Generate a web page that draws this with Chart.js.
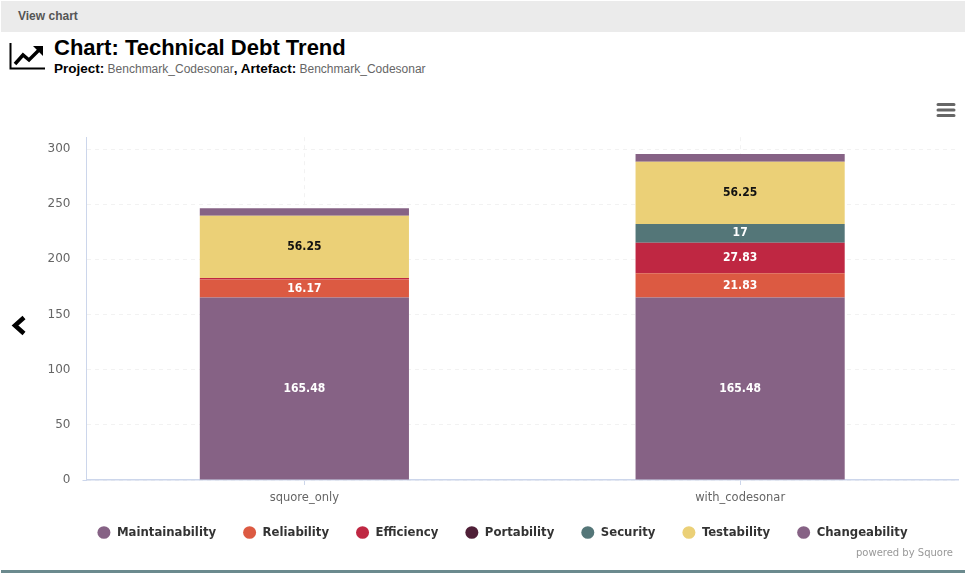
<!DOCTYPE html>
<html>
<head>
<meta charset="utf-8">
<script src="https://cdn.jsdelivr.net/npm/chart.js@4"></script>
<style>
    html, body { margin: 0; padding: 0; background: #fff; }
    body { width: 965px; height: 573px; position: relative; overflow: hidden; font-family: "Liberation Sans", Arial, sans-serif; }
    .viewBar { position: absolute; left: 1px; top: 1px; width: 964px; height: 31px; background: #ebebeb; color: #555; font-weight: bold; font-size: 12px; line-height: 31px; }
    .viewBar span { position: absolute; left: 17px; }
    h1 { position: absolute; left: 54px; top: 34px; margin: 0; font-size: 22px; line-height: 28px; color: #000; white-space: nowrap; }
    .sub { position: absolute; left: 54px; top: 61px; font-size: 12px; line-height: 15px; color: #666; white-space: nowrap; }
    .sub b { color: #000; font-size: 13.5px; }
    .icon { position: absolute; }
    .credit { position: absolute; right: 12px; top: 547px; font: 10px "DejaVu Sans", sans-serif; color: #999; }
    .footerLine { position: absolute; left: 1px; right: 0; top: 570px; height: 3px; background: #6b8a8e; }
    #chartBox { position: absolute; left: 47px; top: 118px; width: 918px; height: 440px; }
</style>
</head>
<body>
<div class="viewBar"><span>View chart</span></div>
<svg class="icon" style="left:9px;top:42px" width="37" height="28" viewBox="0 0 37 28">
    <path d="M1.5 1V26.5H36" fill="none" stroke="#000" stroke-width="2"/>
    <path d="M6 22L14 13L20 18L30 8" fill="none" stroke="#000" stroke-width="3.5"/>
    <path d="M24 4H34V14Z" fill="#000"/>
</svg>
<h1>Chart: Technical Debt Trend</h1>
<div class="sub"><b>Project:</b> Benchmark_Codesonar<b>, Artefact:</b> Benchmark_Codesonar</div>
<svg class="icon" style="left:11px;top:315px" width="16" height="21" viewBox="0 0 16 21">
    <path d="M13 2.5L4 10.5L13 18.5" fill="none" stroke="#000" stroke-width="4.5"/>
</svg>
<svg class="icon" style="left:936px;top:102px" width="20" height="16" viewBox="0 0 20 16">
    <path d="M2 2.5H18M2 8H18M2 13.5H18" stroke="#666" stroke-width="3" stroke-linecap="round"/>
</svg>
<div id="chartBox"><canvas id="debtChart"></canvas></div>
<div class="credit">powered by Squore</div>
<div class="footerLine"></div>

<script>
const categories = ['squore_only', 'with_codesonar'];

const maintainability = [165.48, 165.48];
const reliability = [16.17, 21.83];
const efficiency = [1.5, 27.83];
const portability = [0, 0];
const security = [0, 17];
const testability = [56.25, 56.25];
const changeability = [7, 7];

const seriesNames = ['Maintainability', 'Reliability', 'Efficiency', 'Portability', 'Security', 'Testability', 'Changeability'];
const seriesColors = ['#866285', '#dc5a42', '#bf2742', '#4f1f37', '#547678', '#ebd077', '#866285'];
const seriesValues = [maintainability, reliability, efficiency, portability, security, testability, changeability];
const labelColors = ['#fff', '#fff', '#fff', '#fff', '#fff', '#111', '#fff'];
const yTicks = [0, 50, 100, 150, 200, 250, 300];

const labelFont = '"DejaVu Sans", sans-serif';
const condensedFont = '"DejaVu Sans Condensed", "DejaVu Sans", sans-serif';

// no datalabels plugin here, so the numbers inside the bars are drawn by hand
const barLabels = {
    id: 'barLabels',
    afterDatasetsDraw(chart) {
        const ctx = chart.ctx;
        ctx.save();
        ctx.font = 'bold 12px ' + condensedFont;
        ctx.textAlign = 'center';
        ctx.textBaseline = 'middle';
        chart.data.datasets.forEach((dataset, i) => {
            chart.getDatasetMeta(i).data.forEach((bar, j) => {
                const value = dataset.data[j];
                if (value < 10) return;
                ctx.fillStyle = labelColors[i];
                ctx.fillText(String(value), bar.x, (bar.y + bar.base) / 2);
            });
        });
        ctx.restore();
    }
};

// legend padding is also its vertical gap, pull it back up under the axis labels
const legendShift = {
    id: 'legendShift',
    afterLayout(chart) {
        chart.legend.top -= 9;
    }
};

new Chart(document.getElementById('debtChart'), {
    type: 'bar',
    data: {
        labels: categories,
        datasets: seriesNames.map((name, i) => ({
            label: name,
            data: seriesValues[i],
            backgroundColor: seriesColors[i],
            barPercentage: 0.48,
            categoryPercentage: 1
        }))
    },
    options: {
        responsive: true,
        maintainAspectRatio: false,
        animation: false,
        layout: { padding: { top: 13, right: 7, bottom: 0, left: 0 } },
        plugins: {
            tooltip: { enabled: false },
            legend: {
                position: 'bottom',
                labels: {
                    usePointStyle: true,
                    pointStyle: 'circle',
                    pointStyleWidth: 13,
                    boxHeight: 9,
                    padding: 27,
                    color: '#333',
                    font: { family: condensedFont, size: 13, weight: 'bold' }
                }
            }
        },
        scales: {
            x: {
                stacked: true,
                afterFit(scale) { scale.height = 28; },
                border: { color: '#ccd6eb', width: 1.5, dash: [4, 4] },
                grid: { offset: false, color: '#f2f2f2', tickColor: '#ccd6eb', tickLength: 5, tickBorderDash: [] },
                ticks: { color: '#666', font: { family: labelFont, size: 11.5 }, padding: 6 }
            },
            y: {
                stacked: true,
                min: 0,
                max: 310.7,
                afterFit(scale) { scale.width = 39.5; },
                afterBuildTicks(scale) { scale.ticks = yTicks.map(v => ({ value: v })); },
                border: { color: '#ccd6eb', width: 1, dash: [4, 4] },
                grid: {
                    color: '#f2f2f2',
                    tickColor: ctx => (ctx.tick && ctx.tick.value === 0 ? '#ccd6eb' : 'transparent'),
                    tickLength: 4,
                    tickBorderDash: [],
                    lineWidth: 1
                },
                ticks: { color: '#666', font: { family: labelFont, size: 12 }, padding: 12 }
            }
        }
    },
    plugins: [barLabels, legendShift]
});
</script>
</body>
</html>
